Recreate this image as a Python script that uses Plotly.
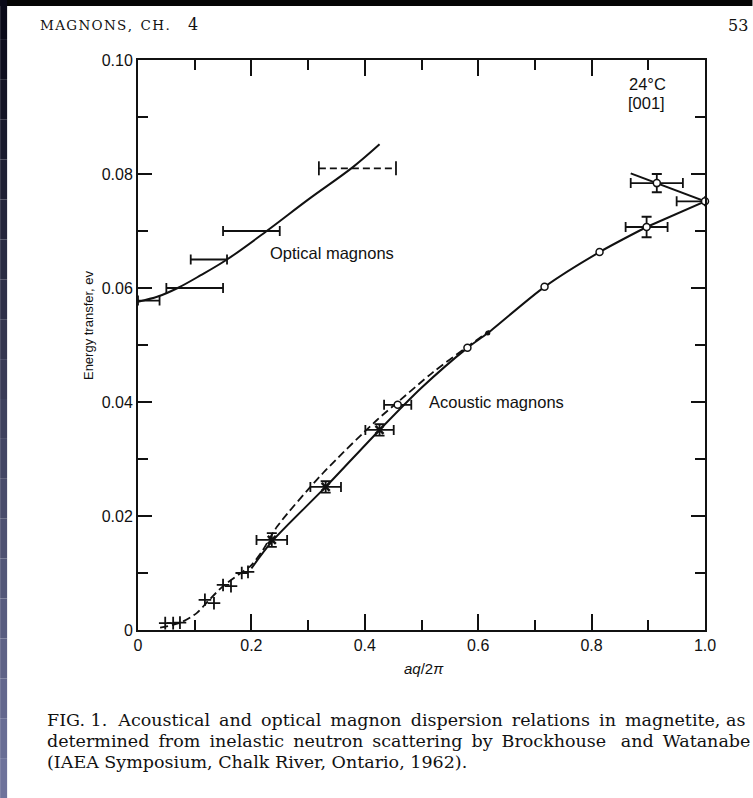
import plotly.graph_objects as go

# ---------------- data ----------------
# Optical magnons: smooth curve
opt_curve_x = [0.0, 0.035, 0.07, 0.11, 0.157, 0.227, 0.30, 0.379, 0.426]
opt_curve_y = [0.0576, 0.0585, 0.0600, 0.0622, 0.0650, 0.0700, 0.0755, 0.0812, 0.0852]
# Optical magnons: measured points with horizontal error bars
opt_pts_x = [0.0, 0.10, 0.125, 0.20]
opt_pts_y = [0.0578, 0.0600, 0.0650, 0.0700]
opt_err_plus = [0.038, 0.050, 0.032, 0.050]
opt_err_minus = [0.0, 0.050, 0.032, 0.050]
# dashed (uncertain) optical point
opt_dash_x = 0.387
opt_dash_y = 0.0810
opt_dash_err = 0.068

# Acoustic magnons: solid curve
ac_solid_x = [0.20, 0.236, 0.331, 0.426, 0.50, 0.581, 0.617, 0.717, 0.814, 0.897]
ac_solid_y = [0.0108, 0.0155, 0.0251, 0.0351, 0.0425, 0.0495, 0.0521, 0.0602, 0.0663, 0.0707]
# straight end segment to the zone boundary
ac_end_x = [0.897, 1.0]
ac_end_y = [0.0707, 0.0752]
# upper branch near zone boundary
ac_upper_x = [1.0, 0.915, 0.869]
ac_upper_y = [0.0752, 0.0784, 0.0801]
# Acoustic magnons: dashed curve
ac_dash_x = [0.039, 0.075, 0.104, 0.123, 0.15, 0.18, 0.20, 0.22, 0.245, 0.326, 0.421, 0.462, 0.52, 0.581, 0.62]
ac_dash_y = [0.0004, 0.0013, 0.0030, 0.0050, 0.0077, 0.0099, 0.0114, 0.0140, 0.0181, 0.0275, 0.0368, 0.0403, 0.0452, 0.0497, 0.0525]

# Points with x and y error bars (solid markers)
ac_err_x = [0.236, 0.331, 0.426]
ac_err_y = [0.0158, 0.0251, 0.0351]
ac_err_dx = [0.027, 0.027, 0.025]
ac_err_dy = [0.0012, 0.0010, 0.0010]

# Open-circle points with error bars
oc_err_x = [0.458, 0.897, 0.915]
oc_err_y = [0.0395, 0.0707, 0.0784]
oc_err_dx = [0.024, 0.037, 0.046]
oc_err_dy = [0.0, 0.0018, 0.0016]
# zone-boundary point (half bar)
zb_x = [1.0]
zb_y = [0.0752]
zb_err_minus = [0.05]

# Open circles without error bars
oc_x = [0.581, 0.717, 0.814]
oc_y = [0.0495, 0.0602, 0.0663]
# Filled dot
fd_x = [0.617]
fd_y = [0.0521]

# Small crosses (low-q data)
cr_x = [0.048, 0.062, 0.074, 0.118, 0.134, 0.150, 0.164, 0.183, 0.194]
cr_y = [0.0012, 0.0012, 0.0013, 0.0053, 0.0047, 0.0079, 0.0077, 0.0100, 0.0102]

x_tickvals = [0, 0.2, 0.4, 0.6, 0.8, 1.0]
x_ticktext = ["0", "0.2", "0.4", "0.6", "0.8", "1.0"]
y_tickvals = [0, 0.02, 0.04, 0.06, 0.08, 0.10]
y_ticktext = ["0", "0.02", "0.04", "0.06", "0.08", "0.10"]

# ---------------- layout geometry ----------------
W, H = 753, 798
L, R, T, B = 138, 47.5, 60, 168
PW, PH = W - L - R, H - T - B


def px(xp):
    return (xp - L) / PW


def py(yp):
    return (H - B - yp) / PH


INK = "#111111"
fig = go.Figure()

# optical curve
fig.add_trace(go.Scatter(x=opt_curve_x, y=opt_curve_y, mode="lines",
                         line=dict(color=INK, width=2, shape="spline", smoothing=1.0),
                         hoverinfo="skip"))
fig.add_trace(go.Scatter(x=opt_pts_x, y=opt_pts_y, mode="markers",
                         marker=dict(size=1, color=INK),
                         error_x=dict(type="data", array=opt_err_plus, arrayminus=opt_err_minus,
                                      symmetric=False, color=INK, thickness=1.8, width=5)))
fig.add_trace(go.Scatter(x=[opt_dash_x - opt_dash_err, opt_dash_x + opt_dash_err],
                         y=[opt_dash_y, opt_dash_y], mode="lines+markers",
                         line=dict(color=INK, width=1.8, dash="7px,4px"),
                         marker=dict(symbol="line-ns", size=10, line=dict(width=1.8, color=INK))))

# acoustic curves
fig.add_trace(go.Scatter(x=ac_dash_x, y=ac_dash_y, mode="lines",
                         line=dict(color=INK, width=1.8, dash="8px,4px", shape="spline", smoothing=0.8)))
fig.add_trace(go.Scatter(x=ac_solid_x, y=ac_solid_y, mode="lines",
                         line=dict(color=INK, width=2, shape="spline", smoothing=0.8)))
fig.add_trace(go.Scatter(x=ac_end_x, y=ac_end_y, mode="lines", line=dict(color=INK, width=2)))
fig.add_trace(go.Scatter(x=ac_upper_x, y=ac_upper_y, mode="lines", line=dict(color=INK, width=2)))

# crosses
fig.add_trace(go.Scatter(x=cr_x, y=cr_y, mode="markers",
                         marker=dict(symbol="cross-thin", size=9, line=dict(width=1.8, color=INK))))

# error points (solid)
fig.add_trace(go.Scatter(x=ac_err_x, y=ac_err_y, mode="markers",
                         marker=dict(symbol="x-thin", size=8, line=dict(width=2.5, color=INK)),
                         error_x=dict(type="data", array=ac_err_dx, color=INK, thickness=1.8, width=5),
                         error_y=dict(type="data", array=ac_err_dy, color=INK, thickness=1.8, width=5)))
# open circles with error bars
fig.add_trace(go.Scatter(x=oc_err_x, y=oc_err_y, mode="markers",
                         marker=dict(symbol="circle", size=7, color="white", line=dict(width=1.5, color=INK)),
                         error_x=dict(type="data", array=oc_err_dx, color=INK, thickness=1.8, width=5),
                         error_y=dict(type="data", array=oc_err_dy, color=INK, thickness=1.8, width=5)))
fig.add_trace(go.Scatter(x=zb_x, y=zb_y, mode="markers", cliponaxis=False,
                         marker=dict(symbol="circle", size=7, color="white", line=dict(width=1.5, color=INK)),
                         error_x=dict(type="data", array=[0], arrayminus=zb_err_minus, symmetric=False,
                                      color=INK, thickness=1.8, width=5)))
fig.add_trace(go.Scatter(x=oc_x, y=oc_y, mode="markers",
                         marker=dict(symbol="circle", size=7, color="white", line=dict(width=1.5, color=INK))))
fig.add_trace(go.Scatter(x=fd_x, y=fd_y, mode="markers",
                         marker=dict(symbol="circle", size=5, color=INK)))

SANS = "Liberation Sans"
SERIF = "DejaVu Serif"
ann = []


def note(x, y, text, size, family=SANS, xref="paper", yref="paper", xanchor="center", **kw):
    ann.append(dict(x=x, y=y, xref=xref, yref=yref, text=text, showarrow=False,
                    xanchor=xanchor, yanchor="middle",
                    font=dict(family=family, size=size, color=INK), **kw))


note(0.342, 0.0661, "Optical magnons", 16.5, xref="x", yref="y")
note(0.633, 0.0400, "Acoustic magnons", 16.5, xref="x", yref="y")
note(0.899, 0.0958, "24°C", 16.5, xref="x", yref="y")
note(0.897, 0.0925, "[001]", 16.5, xref="x", yref="y")
# axis titles
note(px(88), py(325), "Energy transfer, ev", 13, textangle=-90)
note(px(424), py(668), "<i>aq</i>/2<i>π</i>", 15)
# header
hs = "\u200a"
note(px(38), py(25), hs.join("MAGNONS,") + "  " + hs.join("CH."), 13.5, family=SERIF, xanchor="left")
note(px(186), py(24), "4", 16, family=SERIF, xanchor="left")
note(px(751), py(25), "53", 16, family=SERIF, xanchor="right")
# caption (justified by slightly widened word gaps)
g = " \u2009"
cap = [
    "FIG. 1.  Acoustical" + g + "and" + g + "optical" + g + "magnon" + g + "dispersion" + g
    + "relations" + g + "in" + g + "magnetite," + " as",
    "determined" + g + "from" + g + "inelastic" + g + "neutron" + g + "scattering" + g + "by" + g
    + "Brockhouse" + g + " and" + g + "Watanabe",
    "(IAEA Symposium, Chalk River, Ontario, 1962).",
]
for i, line in enumerate(cap):
    note(px(45), py(720 + 21 * i), line, 17.5, family=SERIF, xanchor="left")

# page edges (scan border)
shapes = [dict(type="rect", xref="paper", yref="paper", x0=px(0), x1=px(W), y0=py(-2), y1=py(6),
               fillcolor="#050505", line=dict(width=0), layer="above")]
n = 20
for k in range(n):
    t = k / (n - 1)
    r = int(10 + t * 100); gg = int(10 + t * 105); b = int(25 + t * 130)
    shapes.append(dict(type="rect", xref="paper", yref="paper", x0=px(0), x1=px(7),
                       y0=py(H * k / n), y1=py(H * (k + 1) / n),
                       fillcolor=f"rgb({r},{gg},{b})", line=dict(width=0), layer="above"))

axis_common = dict(showline=True, linecolor=INK, linewidth=2, mirror="ticks", ticks="inside",
                   tickcolor=INK, tickwidth=1.5, showgrid=False, zeroline=False,
                   tickfont=dict(family=SANS, size=16, color=INK))
fig.update_layout(
    width=W, height=H, margin=dict(l=L, r=R, t=T, b=B),
    paper_bgcolor="white", plot_bgcolor="white", showlegend=False,
    xaxis=dict(range=[0, 1.0], tickvals=x_tickvals, ticktext=x_ticktext, ticklen=16,
               minor=dict(dtick=0.1, ticklen=10, ticks="inside", tickcolor=INK, tickwidth=1.5, showgrid=False),
               **axis_common),
    yaxis=dict(range=[0, 0.10], tickvals=y_tickvals, ticktext=y_ticktext, ticklen=14,
               minor=dict(dtick=0.01, ticklen=10, ticks="inside", tickcolor=INK, tickwidth=1.5, showgrid=False),
               **axis_common),
    annotations=ann, shapes=shapes,
)
fig.write_html("out.html", config={"displayModeBar": False},
               post_script="document.body.style.margin='0';")
